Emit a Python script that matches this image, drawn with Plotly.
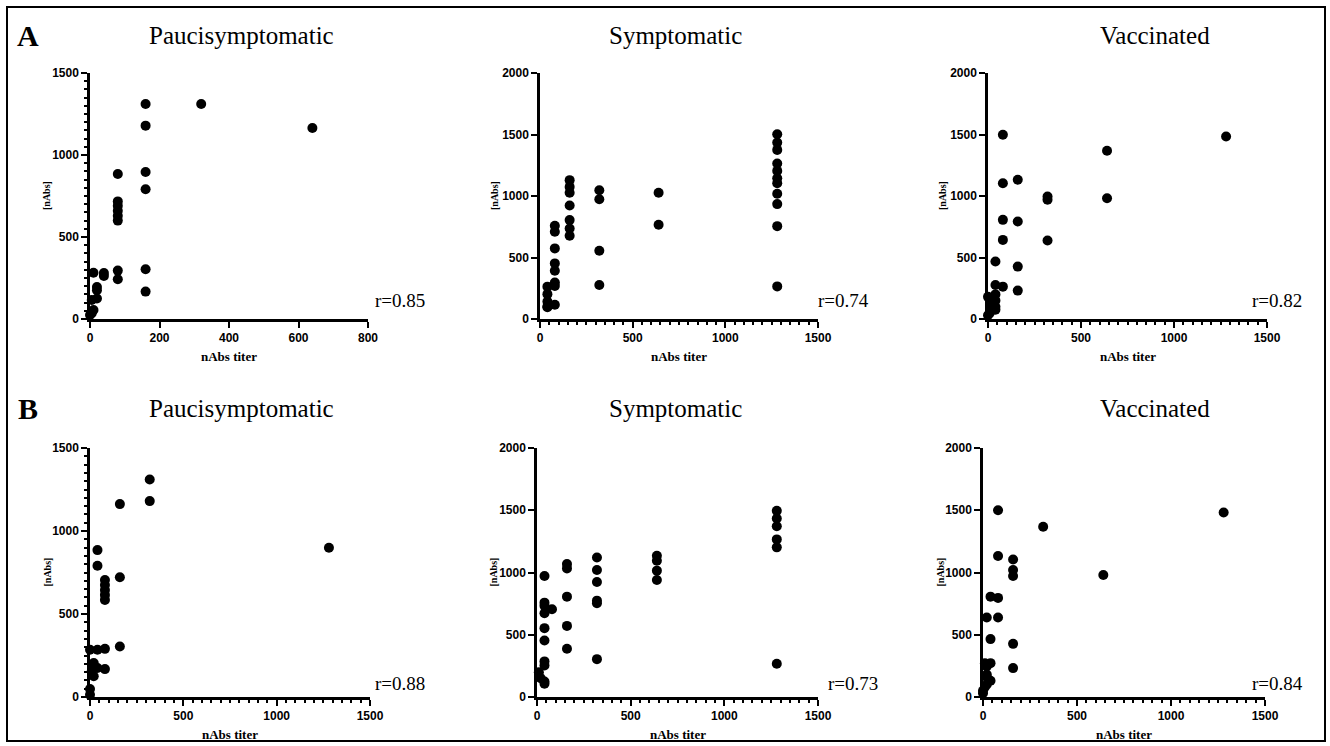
import plotly.graph_objects as go

W, H = 1330, 746

# ---------------- data ----------------
panel_titles = ["Paucisymptomatic", "Symptomatic", "Vaccinated"]
row_labels = ["A", "B"]
r_values = ["r=0.85", "r=0.74", "r=0.82", "r=0.88", "r=0.73", "r=0.84"]

a_pauci_x = [0, 5, 5, 10, 10, 20, 20, 20, 40, 40,
             80, 80, 80, 80, 80, 80, 80, 80,
             160, 160, 160, 160, 160, 160, 320, 640]
a_pauci_y = [24, 35, 116, 55, 282, 195, 175, 125, 280, 262,
             884, 717, 690, 660, 630, 600, 295, 242,
             1311, 1179, 896, 791, 303, 167, 1311, 1165]

a_symp_x = [40, 40, 40, 40, 40,
            80, 80, 80, 80, 80, 80, 80, 80,
            160, 160, 160, 160, 160, 160, 160,
            320, 320, 320, 320,
            640, 640,
            1280, 1280, 1280, 1280, 1280, 1280, 1280, 1280, 1280, 1280, 1280]
a_symp_y = [263, 202, 142, 102, 95,
            758, 709, 574, 452, 392, 296, 269, 116,
            1129, 1074, 1026, 923, 804, 736, 677,
            1047, 974, 555, 276,
            1026, 766,
            1502, 1434, 1375, 1264, 1204, 1145, 1104, 1018, 934, 755, 265]

a_vacc_x = [0, 0, 10, 20, 20, 20, 40, 40, 40, 40, 40, 40,
            80, 80, 80, 80, 80,
            160, 160, 160, 160,
            320, 320, 320, 640, 640, 1280]
a_vacc_y = [180, 30, 50, 155, 120, 85, 200, 150, 100, 75, 467, 277,
            1498, 1104, 806, 643, 263,
            1132, 792, 426, 231,
            996, 969, 638, 1368, 982, 1484]

b_pauci_x = [0, 0, 0, 10, 20, 20, 40, 40, 40, 40,
             80, 80, 80, 80, 80, 80, 80,
             160, 160, 160, 320, 320, 1280]
b_pauci_y = [285, 48, 14, 160, 205, 125, 285, 175, 885, 791,
             705, 675, 645, 615, 585, 290, 168,
             1162, 721, 304, 1310, 1180, 899]

b_symp_x = [10, 20, 40, 40, 40, 40, 40, 40, 40, 40, 40, 40, 80,
            160, 160, 160, 160, 160,
            320, 320, 320, 320, 320, 320,
            640, 640, 640, 640,
            1280, 1280, 1280, 1280, 1280, 1280]
b_symp_y = [198, 150, 972, 758, 732, 673, 553, 454, 286, 254, 125, 107, 705,
            1068, 1033, 806, 571, 387,
            1121, 1020, 924, 774, 753, 304,
            1135, 1095, 1015, 940,
            1495, 1434, 1372, 1266, 1202, 267]

b_vacc_x = [0, 0, 10, 10, 20, 20, 20, 20, 20, 40, 40, 40, 40,
            80, 80, 80, 80,
            160, 160, 160, 160, 160,
            320, 640, 1280]
b_vacc_y = [50, 30, 272, 80, 246, 180, 160, 100, 638, 130, 806, 465, 272,
            1500, 1132, 796, 638,
            1105, 1020, 972, 427, 232,
            1367, 980, 1482]

x_tick_step = [200, 500, 500, 500, 500, 500]
x_max = [800, 1500, 1500, 1500, 1500, 1500]
y_max = [1500, 2000, 2000, 1500, 2000, 2000]

# ---------------- layout helpers ----------------
def px(x):
    return x / W

def py(y):
    return 1 - y / H

# plot-area pixel boxes (left, right, top, bottom)
boxes = [
    (90, 368, 73, 319), (540, 818, 73, 319), (988, 1267, 73, 319),
    (90, 370, 448, 697), (537, 818, 448, 697), (983, 1265, 448, 697),
]
x_minor = [None, 50, 50, 50, 50, 50]
y_minor = [50, None, None, 50, None, None]

datasets = [
    (a_pauci_x, a_pauci_y), (a_symp_x, a_symp_y), (a_vacc_x, a_vacc_y),
    (b_pauci_x, b_pauci_y), (b_symp_x, b_symp_y), (b_vacc_x, b_vacc_y),
]

fig = go.Figure()
layout = {}
tick_font = dict(family="Liberation Sans", size=12, color="black", weight="bold")

for i, ((xs, ys), (l, r, t, b)) in enumerate(zip(datasets, boxes)):
    suffix = "" if i == 0 else str(i + 1)
    fig.add_trace(go.Scatter(
        x=xs, y=ys, mode="markers",
        marker=dict(size=10, color="black"),
        cliponaxis=False, showlegend=False, hoverinfo="skip",
        xaxis="x" + suffix, yaxis="y" + suffix,
    ))
    xa = dict(
        domain=[px(l), px(r)], anchor="y" + suffix, automargin=False,
        range=[0, x_max[i]], tickmode="linear", tick0=0, dtick=x_tick_step[i],
        showline=True, linecolor="black", linewidth=2.5,
        ticks="outside", ticklen=6, tickwidth=2, tickcolor="black",
        showgrid=False, zeroline=False, tickfont=tick_font,
    )
    if x_minor[i]:
        xa["minor"] = dict(ticks="outside", ticklen=3.5, tickwidth=1.5,
                           tickcolor="black", dtick=x_minor[i], showgrid=False)
    ya = dict(
        domain=[py(b), py(t)], anchor="x" + suffix, automargin=False,
        range=[0, y_max[i]], tickmode="linear", tick0=0, dtick=500,
        showline=True, linecolor="black", linewidth=2.5,
        ticks="outside", ticklen=6, tickwidth=2, tickcolor="black",
        showgrid=False, zeroline=False, tickfont=tick_font,
    )
    if y_minor[i]:
        ya["minor"] = dict(ticks="outside", ticklen=3.5, tickwidth=1.5,
                           tickcolor="black", dtick=y_minor[i], showgrid=False)
    layout["xaxis" + suffix] = xa
    layout["yaxis" + suffix] = ya

annotations = []
title_pos = [(241, 35), (675, 35), (1155, 35), (241, 408), (675, 408), (1155, 408)]
for i, (cx, cy) in enumerate(title_pos):
    annotations.append(dict(
        x=px(cx), y=py(cy), xref="paper", yref="paper",
        text=panel_titles[i % 3], showarrow=False,
        xanchor="center", yanchor="middle",
        font=dict(family="Liberation Serif", size=25, color="black"),
    ))

for lab, cy in zip(row_labels, [35, 408]):
    annotations.append(dict(
        x=px(28), y=py(cy), xref="paper", yref="paper",
        text=lab, showarrow=False, xanchor="center", yanchor="middle",
        font=dict(family="Liberation Serif", size=30, color="black", weight="bold"),
    ))

r_pos = [(373, 301), (816, 301), (1250, 301), (373, 683), (826, 683), (1250, 683)]
for i, (lx, cy) in enumerate(r_pos):
    annotations.append(dict(
        x=px(lx), y=py(cy), xref="paper", yref="paper",
        text=r_values[i], showarrow=False, xanchor="left", yanchor="middle",
        font=dict(family="Liberation Serif", size=19, color="black"),
    ))

ytitle_x = [47, 495, 943, 47, 493, 940]
for i, (l, r, t, b) in enumerate(boxes):
    annotations.append(dict(
        x=px((l + r) / 2), y=py(b + 37), xref="paper", yref="paper",
        text="nAbs titer", showarrow=False, xanchor="center", yanchor="middle",
        font=dict(family="Liberation Serif", size=13, color="black", weight="bold"),
    ))
    annotations.append(dict(
        x=px(ytitle_x[i]), y=py((t + b) / 2), xref="paper", yref="paper",
        text="[nAbs]", showarrow=False, textangle=-90,
        xanchor="center", yanchor="middle",
        font=dict(family="Liberation Serif", size=10, color="black", weight="bold"),
    ))

fig.update_layout(
    width=W, height=H,
    margin=dict(l=0, r=0, t=0, b=0, autoexpand=False),
    paper_bgcolor="white", plot_bgcolor="white",
    annotations=annotations,
    shapes=[dict(type="rect", xref="paper", yref="paper",
                 x0=px(7), x1=px(1325), y0=py(741), y1=py(7),
                 line=dict(color="black", width=2))],
    **layout,
)

fig.write_html(
    "out.html",
    config={"displayModeBar": False},
    post_script="document.body.style.margin='0';document.body.style.overflow='hidden';",
)
